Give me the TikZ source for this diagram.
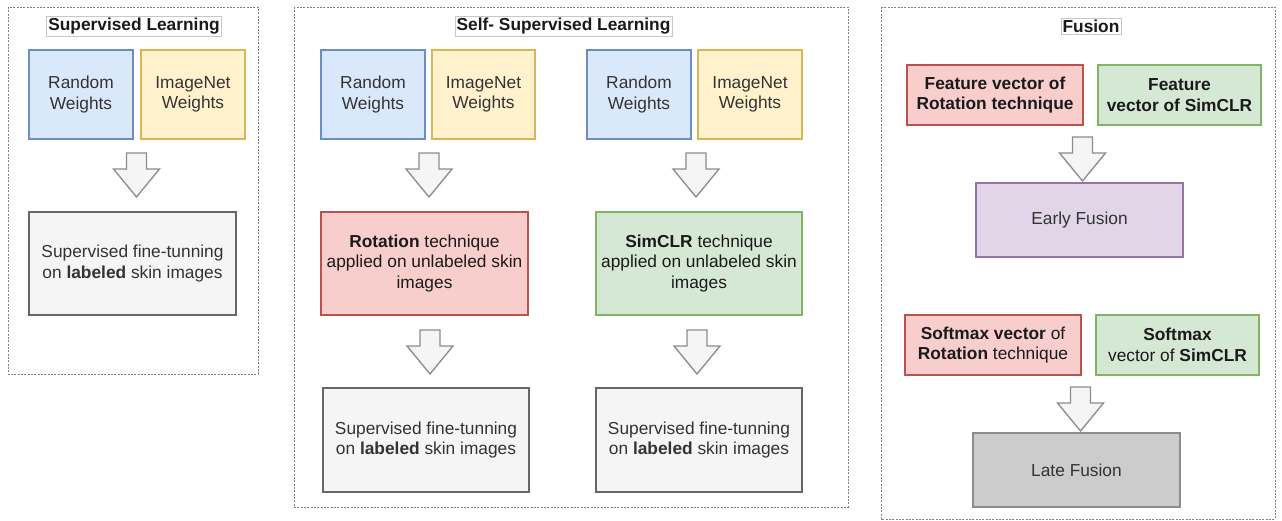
\documentclass[tikz,border=0pt]{standalone}
\usepackage{fontspec}
\setmainfont{Liberation Sans}
\definecolor{blueF}{HTML}{DAE8FC}\definecolor{blueD}{HTML}{6C8EBF}
\definecolor{yelF}{HTML}{FFF2CC}\definecolor{yelD}{HTML}{D6B656}
\definecolor{redF}{HTML}{F8CECC}\definecolor{redD}{HTML}{B85450}
\definecolor{grnF}{HTML}{D5E8D4}\definecolor{grnD}{HTML}{82B366}
\definecolor{purF}{HTML}{E1D5E7}\definecolor{purD}{HTML}{9673A6}
\definecolor{gryF}{HTML}{F5F5F5}\definecolor{gryD}{HTML}{666666}
\definecolor{lateF}{HTML}{CCCCCC}\definecolor{lateD}{HTML}{8C8C8C}
\definecolor{txt}{HTML}{333333}
\definecolor{txtdark}{HTML}{1A1A1A}
\definecolor{panelD}{HTML}{808080}
\definecolor{arrowD}{HTML}{8C8C8C}
% box given by its corner pixels: style, name, x1, y1, x2, y2, text
\newcommand\pxbox[7]{\node[#1, minimum width={(#5-#3)*0.75pt}, minimum height={(#6-#4)*0.75pt}] (#2) at ({(#3+#5)/2},{(#4+#6)/2}) {#7};}
\tikzset{
  base/.style={draw, line width=1pt, align=center, inner sep=0pt, text=txt,
    font=\fontsize{13}{15.5}\selectfont},
  wblue/.style={base, fill=blueF, draw=blueD},
  wyellow/.style={base, fill=yelF, draw=yelD},
  wred/.style={base, fill=redF, draw=redD, text=txtdark},
  wgreen/.style={base, fill=grnF, draw=grnD, text=txtdark},
  wpurple/.style={base, fill=purF, draw=purD},
  wgray/.style={base, fill=gryF, draw=gryD},
  wlate/.style={base, fill=lateF, draw=lateD, line width=1.5pt},
  paneltitle/.style={draw=black!22, fill=white, line width=0.6pt, inner sep=1.2pt,
    text=txtdark, font=\fontsize{13}{14}\selectfont\bfseries},
  panel/.style={draw=panelD, line width=0.75pt, dash pattern=on 1.5pt off 1pt},
  blockarrow/.style={draw=arrowD, fill=gryF, line width=1pt, line join=miter},
  downarrow/.pic={\draw[blockarrow] (-10,-22) -- (10,-22) -- (10,-6) -- (23,-6)
      -- (0,22) -- (-23,-6) -- (-10,-6) -- cycle;}
}
\begin{document}
\begin{tikzpicture}[x=0.75pt, y=-0.75pt]
\useasboundingbox (0,0) rectangle (1282,521);

% ---- panels ----
\draw[panel] (8,7) rectangle (258,374);
\draw[panel] (294,7) rectangle (848,507);
\draw[panel] (881,7) rectangle (1275,519);
\node[paneltitle] (t1) at (134,26.5) {Supervised Learning};
\node[paneltitle] (t2) at (563.5,26.5) {Self- Supervised Learning};
\node[paneltitle] (t3) at (1091,26.5) {Fusion};

% ---- supervised learning ----
\pxbox{wblue}{rw1}{29}{50}{133}{139}{Random\\Weights}
\pxbox{wyellow}{in1}{141}{50}{245}{139}{ImageNet\\Weights}
\pic at (136.5,175) {downarrow};
\pxbox{wgray}{ft1}{29}{212}{236}{315}{Supervised fine-tunning\\on \textbf{labeled} skin images}

% ---- self-supervised learning ----
\pxbox{wblue}{rw2}{321}{50}{425}{139}{Random\\Weights}
\pxbox{wyellow}{in2}{432}{50}{535}{139}{ImageNet\\Weights}
\pxbox{wblue}{rw3}{587}{50}{691}{139}{Random\\Weights}
\pxbox{wyellow}{in3}{698}{50}{802}{139}{ImageNet\\Weights}
\pic at (429,175) {downarrow};
\pic at (696,175) {downarrow};
\pxbox{wred}{rot}{321}{212}{528}{315}{\textbf{Rotation} technique\\applied on unlabeled skin\\images}
\pxbox{wgreen}{sim}{596}{212}{802}{315}{\textbf{SimCLR} technique\\applied on unlabeled skin\\images}
\pic at (430,352) {downarrow};
\pic at (697,352) {downarrow};
\pxbox{wgray}{ft2}{323}{388}{529}{492}{Supervised fine-tunning\\on \textbf{labeled} skin images}
\pxbox{wgray}{ft3}{596}{388}{802}{492}{Supervised fine-tunning\\on \textbf{labeled} skin images}

% ---- fusion ----
\pxbox{wred}{fr}{907}{65}{1083}{125}{\textbf{Feature vector of}\\\textbf{Rotation technique}}
\pxbox{wgreen}{fg}{1098}{65}{1261}{125}{\textbf{Feature}\\\textbf{vector of SimCLR}}
\pic at (1082.5,159) {downarrow};
\pxbox{wpurple}{early}{976}{183}{1183}{257}{Early Fusion}
\pxbox{wred}{sr}{905}{315}{1081}{375}{\textbf{Softmax vector} of\\\textbf{Rotation} technique}
\pxbox{wgreen}{sg}{1096}{315}{1259}{375}{\textbf{Softmax}\\vector of \textbf{SimCLR}}
\pic at (1080.5,409) {downarrow};
\pxbox{wlate}{late}{973}{433}{1180}{507}{Late Fusion}
\end{tikzpicture}
\end{document}
